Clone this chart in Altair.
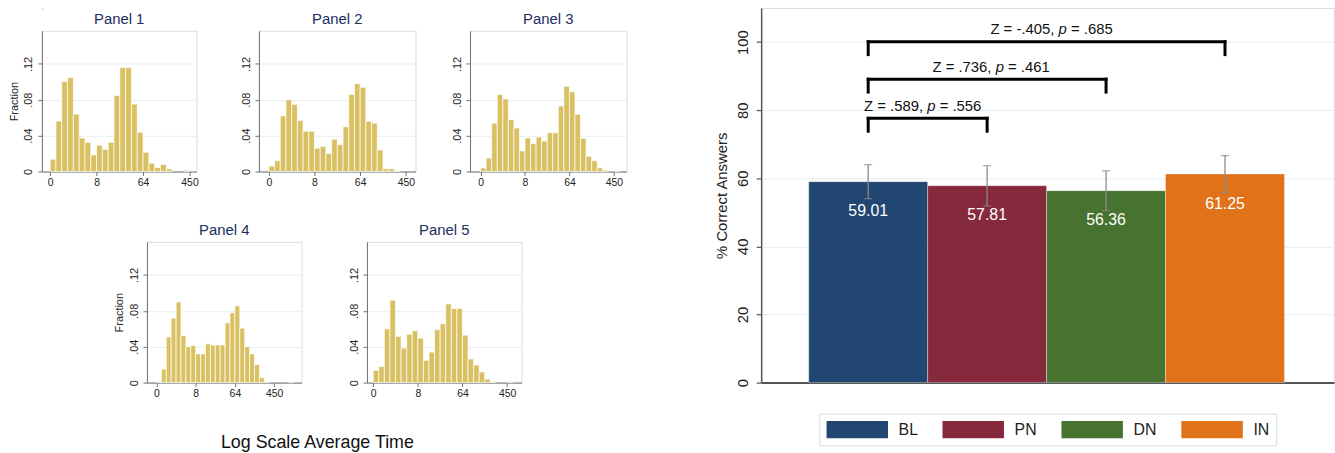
import altair as alt
import pandas as pd

FONT = "Liberation Sans"

# ---------------- histogram panels ----------------
# Fraction of observations per log-time bin (bin k spans [k, k+1]; 8 bins per labelled tick)
PANEL_NAMES = ["Panel 1", "Panel 2", "Panel 3", "Panel 4", "Panel 5"]
FRAC_1 = [0.0137, 0.0563, 0.1004, 0.1048, 0.0640, 0.0374, 0.0326, 0.0185, 0.0293, 0.0248,
          0.0326, 0.0848, 0.1159, 0.1159, 0.0752, 0.0437, 0.0215, 0.0093, 0.0044, 0.0078,
          0.0030, 0.0, 0.0, 0.0015]
FRAC_2 = [0.006, 0.012, 0.062, 0.080, 0.075, 0.057, 0.045, 0.045, 0.026, 0.028,
          0.020, 0.036, 0.030, 0.050, 0.086, 0.098, 0.094, 0.056, 0.054, 0.024,
          0.003, 0.003, 0.001]
FRAC_3 = [0.004, 0.015, 0.054, 0.086, 0.081, 0.058, 0.0485, 0.023, 0.0374, 0.031,
          0.0385, 0.034, 0.0433, 0.0433, 0.073, 0.095, 0.089, 0.064, 0.037, 0.017,
          0.012, 0.004, 0.0015, 0.0, 0.001]
FRAC_4 = [0.001, 0.015, 0.051, 0.072, 0.090, 0.0526, 0.040, 0.0415, 0.032, 0.032,
          0.0433, 0.0419, 0.0419, 0.0419, 0.0667, 0.0778, 0.0856, 0.0607, 0.040, 0.032,
          0.020, 0.0056, 0.001, 0.0, 0.0, 0.0, 0.0, 0.001]
FRAC_5 = [0.0137, 0.018, 0.060, 0.092, 0.0515, 0.0385, 0.054, 0.058, 0.0496, 0.0248,
          0.034, 0.059, 0.0656, 0.0878, 0.0826, 0.0826, 0.053, 0.0263, 0.0196, 0.0119,
          0.004, 0.001, 0.0, 0.0, 0.001]
FRACS = [FRAC_1, FRAC_2, FRAC_3, FRAC_4, FRAC_5]

TICK_BINS = [0, 8, 16, 24]
TICK_LABELS = ["0", "8", "64", "450"]
Y_TICKS = [0, 0.04, 0.08, 0.12]
X_TITLE = "Log Scale Average Time"

# axis extents (in bins) and panel widths
X_EXTENT = [(-1.42, 25.2), (-1.74, 25.7), (-1.9, 26.3), (-1.95, 29.6), (-1.12, 26.6)]
PANEL_W = [156, 158, 158, 156, 156]
PANEL_H = 142
Y_MAX = 0.157

GOLD = "#d9c163"
NAVY_TITLE = "#1c2e5e"
GRID = "#e4eef0"
AXIS_GRAY = "#707070"

x_label_expr = " : ".join(
    f"datum.value == {b} ? '{lab}'" for b, lab in zip(TICK_BINS[1:], TICK_LABELS[1:])
) + f" : '{TICK_LABELS[0]}'"
y_label_expr = "datum.value == 0 ? '0' : replace(format(datum.value, '.2f'), '0.', '.')"


def histogram(idx, y_title):
    rows = [{"b0": k, "b1": k + 1, "frac": f} for k, f in enumerate(FRACS[idx]) if f > 0]
    df = pd.DataFrame(rows)
    lo, hi = X_EXTENT[idx]
    y_opts = dict(
        values=Y_TICKS, labelExpr=y_label_expr,
        labelAngle=270, labelAlign="center", labelBaseline="bottom",
        labelFontSize=11, labelFont=FONT, labelColor="#222", labelPadding=4,
        tickSize=4, tickColor=AXIS_GRAY, domainColor=AXIS_GRAY,
        grid=True, gridColor=GRID, gridWidth=1,
    )
    if y_title:
        y_axis = alt.Axis(title=y_title, titleFont=FONT, titleFontSize=11,
                          titleFontWeight="normal", titleColor="#222", titlePadding=4, **y_opts)
    else:
        y_axis = alt.Axis(title=None, **y_opts)
    x_axis = alt.Axis(
        values=TICK_BINS, labelExpr=x_label_expr, labelFontSize=10.5, labelFont=FONT,
        labelColor="#222", labelPadding=2, tickSize=4, tickColor=AXIS_GRAY,
        domainColor=AXIS_GRAY, grid=False, title=None, labelFlush=False,
    )
    return alt.Chart(df).mark_rect(color=GOLD, stroke="white", strokeWidth=0.7).encode(
        x=alt.X("b0:Q", scale=alt.Scale(domain=[lo, hi], nice=False, zero=False), axis=x_axis),
        x2="b1:Q",
        y=alt.Y("frac:Q", scale=alt.Scale(domain=[0, Y_MAX], nice=False), axis=y_axis),
        y2=alt.datum(0),
    ).properties(
        width=PANEL_W[idx], height=PANEL_H,
        title=alt.TitleParams(PANEL_NAMES[idx], font=FONT, fontSize=15, fontWeight="normal",
                              color=NAVY_TITLE, offset=4, frame="group"),
    )


row1 = alt.hconcat(
    alt.hconcat(histogram(0, "Fraction"), histogram(1, None), spacing=40),
    histogram(2, None), spacing=34,
)
# blank left title nudges the lower row to the right
row2 = alt.hconcat(histogram(3, "Fraction"), histogram(4, None), spacing=45).properties(
    title=alt.TitleParams(" ", orient="left", fontSize=9, offset=0))
left_block = alt.vconcat(row1, row2, spacing=34, center=True).properties(
    title=alt.TitleParams(X_TITLE, orient="bottom", anchor="middle", font=FONT,
                          fontSize=18, fontWeight="normal", color="#111", offset=35)
)

# a hidden 1px spacer lifts the top of the bar chart above the first histogram row
spacer = alt.Chart(pd.DataFrame({"v": [0]})).mark_point(
    opacity=0, size=0, strokeOpacity=0, fillOpacity=0, color="white"
).encode(x=alt.value(0), y=alt.value(0)).properties(width=1, height=1)
left_wrapped = alt.vconcat(spacer, left_block, spacing=1)

# ---------------- bar chart with comparison brackets ----------------
GROUPS = ["BL", "PN", "DN", "IN"]
MEANS = [59.01, 57.81, 56.36, 61.25]
CI_LOW = [54.0, 51.9, 50.5, 55.85]
CI_HIGH = [64.0, 63.7, 62.2, 66.65]
COLORS = ["#224672", "#86293c", "#48722f", "#e0721a"]

BRACKET_FROM = ["BL", "BL", "BL"]
BRACKET_TO = ["PN", "DN", "IN"]
BRACKET_Y = [77.6, 89.1, 100.1]
Z_VALUES = [".589", ".736", "-.405"]
P_VALUES = [".556", ".461", ".685"]
BRACKET_DROP = 3.8
TEXT_SHIFT_PX = [-5, 4, 5]

Y_LABEL = "% Correct Answers"
R_WIDTH = 578
R_HEIGHT = 378
X_MIN, X_MAX = 0.1, 0.1 + R_WIDTH / 120
PX_PER_UNIT = R_WIDTH / (X_MAX - X_MIN)

pos = {g: i + 1 for i, g in enumerate(GROUPS)}
bars_df = pd.DataFrame({
    "group": GROUPS,
    "pos": [pos[g] for g in GROUPS],
    "left": [pos[g] - 0.5 for g in GROUPS],
    "right": [pos[g] + 0.5 for g in GROUPS],
    "mean": MEANS,
    "lo": CI_LOW,
    "hi": CI_HIGH,
    "label": [f"{m:.2f}" for m in MEANS],
})

# approximate advance widths (em) for Helvetica-metric text
ADV = {"Z": 0.611, " ": 0.278, "=": 0.584, ".": 0.278, ",": 0.278, "-": 0.333, "p": 0.556}


def text_w(s, size=15):
    return sum(ADV.get(c, 0.556) for c in s) * size


brk_rows = []
for a, b, yv, z, p, sh in zip(BRACKET_FROM, BRACKET_TO, BRACKET_Y, Z_VALUES, P_VALUES,
                              TEXT_SHIFT_PX):
    left_txt, right_txt = f"Z = {z},", f"= {p}"
    wl, wp, wr, sp = text_w(left_txt), text_w("p"), text_w(right_txt), text_w(" ")
    total = wl + sp + wp + sp + wr
    mid = (pos[a] + pos[b]) / 2
    anchor = mid + (wl + sp - total / 2 + sh) / PX_PER_UNIT  # left edge of the "p"
    brk_rows.append({
        "x0": pos[a], "x1": pos[b], "y": yv, "ydrop": yv - BRACKET_DROP,
        "zt": left_txt, "zx": anchor - sp / PX_PER_UNIT,
        "px": anchor,
        "vt": right_txt, "vx": anchor + (wp + sp) / PX_PER_UNIT,
    })
brk_df = pd.DataFrame(brk_rows)

x_scale = alt.Scale(domain=[X_MIN, X_MAX], nice=False, zero=False)
y_scale = alt.Scale(domain=[0, 110], nice=False)

x_axis_r = alt.Axis(labels=False, ticks=False, grid=False, title=None,
                    domainColor="#222", domainWidth=1.5)
y_axis_r = alt.Axis(
    values=[0, 20, 40, 60, 80, 100], labelAngle=270, labelAlign="center",
    labelBaseline="bottom", labelFontSize=15, labelFont=FONT, labelColor="#222",
    labelPadding=6, tickSize=5, tickColor="#555", tickWidth=1.2,
    domainColor="#555", domainWidth=1.5, grid=True, gridColor=GRID, gridWidth=1,
    title=Y_LABEL, titleFont=FONT, titleFontSize=15, titleFontWeight="normal",
    titleColor="#222", titlePadding=6,
)

# legend swatch: 62 x 17.4 px bar drawn to the right of a 17.4 px symbol slot
SWATCH_H = 17.4
SWATCH_W = 62
swatch_path = f"M-1,-1H{2 * SWATCH_W / SWATCH_H - 1:.3f}V1H-1Z"

base = alt.Chart(bars_df)
bars = base.mark_rect(stroke="white", strokeWidth=0.6, strokeOpacity=0.6).encode(
    x=alt.X("left:Q", scale=x_scale, axis=x_axis_r),
    x2="right:Q",
    y=alt.Y("mean:Q", scale=y_scale, axis=y_axis_r),
    y2=alt.datum(0),
    color=alt.Color(
        "group:N", scale=alt.Scale(domain=GROUPS, range=COLORS),
        legend=alt.Legend(
            orient="none", legendX=58.7, legendY=409.3, direction="horizontal", title=None,
            symbolType=swatch_path, symbolSize=SWATCH_H ** 2, symbolStrokeWidth=0,
            symbolOpacity=1, labelFontSize=16, labelFont=FONT, labelColor="#222",
            labelOffset=SWATCH_W + 11 - 18, columnPadding=24, padding=7,
            strokeColor="#d3e0e4", fillColor="white",
        ),
    ),
)
err = base.mark_rule(color="#8a8a8a", strokeWidth=1.3).encode(
    x=alt.X("pos:Q", scale=x_scale), y=alt.Y("lo:Q", scale=y_scale), y2="hi:Q")
cap_lo = base.mark_tick(color="#8a8a8a", orient="horizontal", size=8, thickness=1.3).encode(
    x=alt.X("pos:Q", scale=x_scale), y=alt.Y("lo:Q", scale=y_scale))
cap_hi = base.mark_tick(color="#8a8a8a", orient="horizontal", size=8, thickness=1.3).encode(
    x=alt.X("pos:Q", scale=x_scale), y=alt.Y("hi:Q", scale=y_scale))
values = base.mark_text(color="white", fontSize=16, font=FONT, dy=30, baseline="middle").encode(
    x=alt.X("pos:Q", scale=x_scale), y=alt.Y("mean:Q", scale=y_scale), text="label:N")

brk = alt.Chart(brk_df)
h_line = brk.mark_rule(color="black", strokeWidth=3, strokeCap="square").encode(
    x=alt.X("x0:Q", scale=x_scale), x2="x1:Q", y=alt.Y("y:Q", scale=y_scale))
v_left = brk.mark_rule(color="black", strokeWidth=3, strokeCap="square").encode(
    x=alt.X("x0:Q", scale=x_scale), y=alt.Y("y:Q", scale=y_scale), y2="ydrop:Q")
v_right = brk.mark_rule(color="black", strokeWidth=3, strokeCap="square").encode(
    x=alt.X("x1:Q", scale=x_scale), y=alt.Y("y:Q", scale=y_scale), y2="ydrop:Q")
z_txt = brk.mark_text(font=FONT, fontSize=15, color="#111", align="right", dy=-7.5,
                      baseline="alphabetic").encode(
    x=alt.X("zx:Q", scale=x_scale), y=alt.Y("y:Q", scale=y_scale), text="zt:N")
p_txt = brk.mark_text(font=FONT, fontSize=15, color="#111", align="left", dy=-7.5,
                      baseline="alphabetic", fontStyle="italic").encode(
    x=alt.X("px:Q", scale=x_scale), y=alt.Y("y:Q", scale=y_scale), text=alt.value("p"))
v_txt = brk.mark_text(font=FONT, fontSize=15, color="#111", align="left", dy=-7.5,
                      baseline="alphabetic").encode(
    x=alt.X("vx:Q", scale=x_scale), y=alt.Y("y:Q", scale=y_scale), text="vt:N")

right_chart = alt.layer(
    bars, err, cap_lo, cap_hi, values, h_line, v_left, v_right, z_txt, p_txt, v_txt
).properties(width=R_WIDTH, height=R_HEIGHT)

chart = alt.concat(left_wrapped, right_chart, columns=2, align="none", spacing=87).resolve_scale(
    color="independent"
).resolve_legend(color="independent").properties(
    padding={"left": 7, "top": 5, "right": 0, "bottom": 0},
).configure_view(stroke="transparent", strokeWidth=0).configure(
    font=FONT, background="white"
)

chart.save("out.html", embed_options={"renderer": "svg", "actions": False})
